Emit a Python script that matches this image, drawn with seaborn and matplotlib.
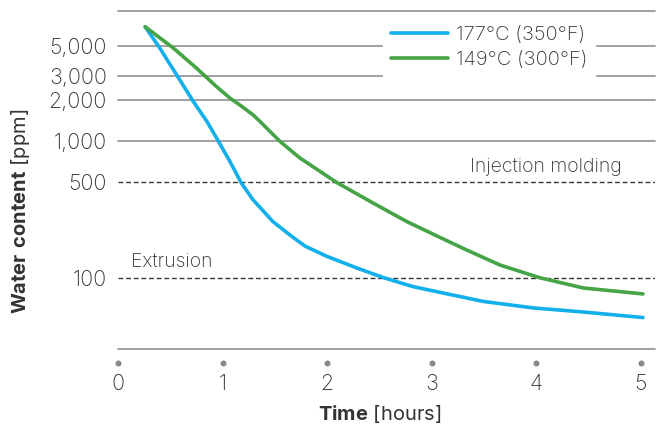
import numpy as np
import pandas as pd
import matplotlib
matplotlib.use("Agg")
import matplotlib.pyplot as plt
import seaborn as sns

# drying curves (time in hours, water in ppm)
time_177 = [0.26, 0.40, 0.56, 0.72, 0.85, 0.96, 1.07, 1.18, 1.29, 1.42, 1.48,
            1.66, 1.79, 2.0, 2.28, 2.54, 2.82, 3.08, 3.49, 3.97, 4.45, 5.02]
water_177 = [6900, 4810, 3070, 1955, 1396, 1000, 711, 493, 373, 290, 258,
             201, 170, 143, 118, 100, 86, 78, 67, 60, 56, 51]
time_149 = [0.26, 0.53, 0.75, 0.94, 1.07, 1.17, 1.29, 1.36, 1.55, 1.74, 2.09,
            2.44, 2.76, 3.08, 3.33, 3.65, 4.03, 4.45, 5.02]
water_149 = [6900, 4810, 3435, 2520, 2070, 1830, 1563, 1390, 995, 753, 499,
             352, 258, 197, 160, 124, 100, 84, 76]
series_names = ["177°C (350°F)", "149°C (300°F)"]
x_ticks = [0, 1, 2, 3, 4, 5]
y_ticks = [100, 500, 1000, 2000, 3000, 5000]
y_tick_labels = ["100", "500", "1,000", "2,000", "3,000", "5,000"]
grid_levels = [1000, 2000, 3000, 5000, 9000]
limits = {"Injection molding": 500, "Extrusion": 100}

df = pd.concat([
    pd.DataFrame({"time": time_177, "water": water_177, "series": series_names[0]}),
    pd.DataFrame({"time": time_149, "water": water_149, "series": series_names[1]}),
])

sns.set_style("white")
plt.rcParams["font.family"] = ["Inter", "DejaVu Sans"]
plt.rcParams["font.weight"] = "light"
plt.rcParams["mathtext.fontset"] = "custom"
plt.rcParams["mathtext.bf"] = "Inter:bold"
plt.rcParams["mathtext.rm"] = "Inter"

fig = plt.figure(figsize=(6.62, 4.29), dpi=100)
ax = fig.add_axes([118 / 662, 1 - 349 / 429, 537 / 662, 338 / 429])

text_col = "#333333"
grid_col = "#9a9a9a"

# grid lines + bottom line
for lv in grid_levels:
    ax.axhline(lv, color=grid_col, lw=1.3, zorder=0, clip_on=False)
ax.axhline(30, color=grid_col, lw=1.3, zorder=0, clip_on=False)

for label, lv in limits.items():
    ax.axhline(lv, color="#333333", lw=1.0, ls=(0, (3.5, 2)), zorder=1)

sns.lineplot(data=df, x="time", y="water", hue="series", ax=ax,
             palette=["#12b0ea", "#45a445"], linewidth=2.6, sort=False,
             estimator=None, zorder=3)

ax.set_yscale("log")
ax.set_ylim(30, 9000)
ax.set_xlim(0, 5.135)

ax.text(4.82, 500 * 1.12, "Injection molding", ha="right", va="bottom",
        fontsize=14, color=text_col)
ax.text(0.125, 100 * 1.12, "Extrusion", ha="left", va="bottom",
        fontsize=14, color=text_col)

ax.set_yticks(y_ticks)
ax.set_yticklabels(y_tick_labels)
ax.yaxis.set_minor_locator(matplotlib.ticker.NullLocator())
ax.set_xticks(x_ticks)
ax.set_xticklabels([str(t) for t in x_ticks])

for s in ax.spines.values():
    s.set_visible(False)
ax.spines["bottom"].set_position(("outward", 10))

ax.tick_params(axis="y", length=0, pad=8, labelsize=15.5, labelcolor=text_col)
ax.tick_params(axis="x", length=0, pad=8, labelsize=15.5, labelcolor=text_col)
for t in ax.xaxis.get_major_ticks():
    t.tick1line.set_marker("o")
    t.tick1line.set_markersize(3.5)
    t.tick1line.set_markerfacecolor("#888888")
    t.tick1line.set_markeredgecolor("#888888")
    t.tick1line.set_visible(True)

ax.set_xlabel(r"$\bf{Time}$ [hours]", fontsize=14.5, color=text_col)
ax.set_ylabel(r"$\bf{Water\ content}$ [ppm]", fontsize=14.5, color=text_col)
ax.xaxis.set_label_coords(0.488, -0.16)
ax.yaxis.set_label_coords(-0.16, 0.408)

leg = ax.legend(loc="center", bbox_to_anchor=(0.691, 0.892), frameon=True,
                framealpha=1, facecolor="white", edgecolor="white",
                fontsize=14.5, handlelength=2.8, handletextpad=0.4,
                labelspacing=0.3, borderpad=0.4, fancybox=False)
for txt in leg.get_texts():
    txt.set_color(text_col)
leg.set_zorder(2)

fig.savefig("out.png", dpi=100)
